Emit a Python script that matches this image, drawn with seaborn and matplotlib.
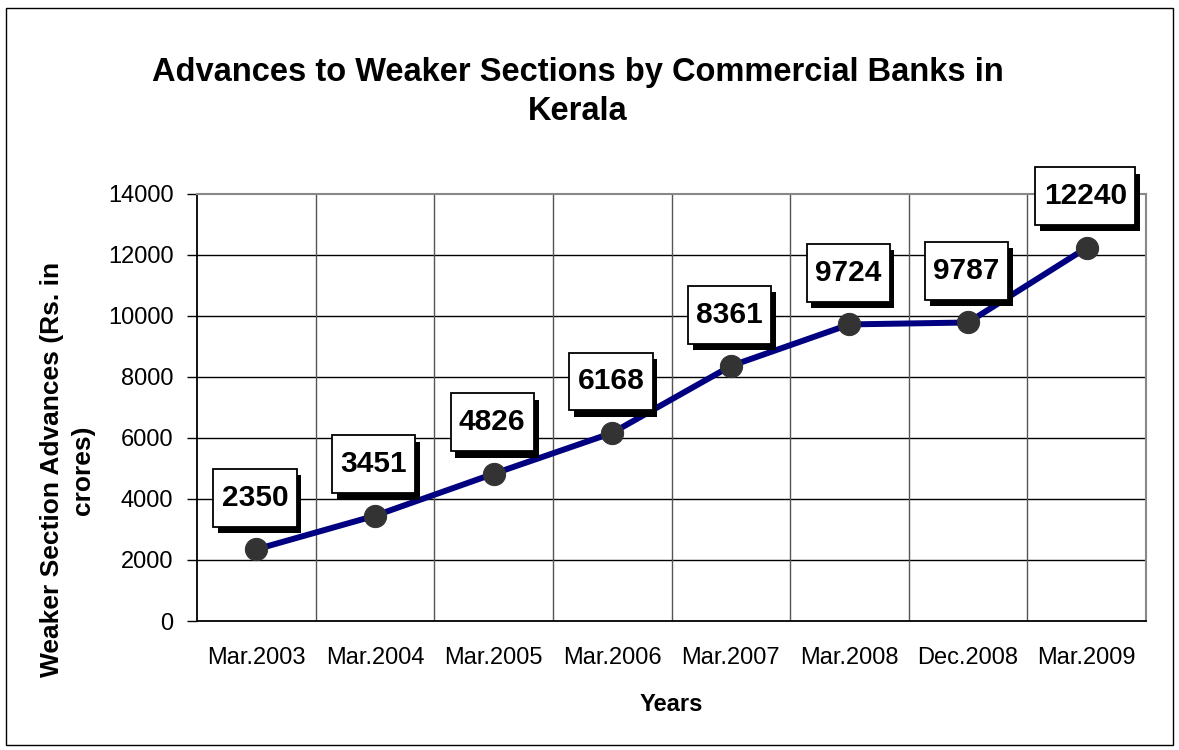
import matplotlib.pyplot as plt
import matplotlib.patheffects as pe
from matplotlib.path import Path
import seaborn as sns
import pandas as pd

# data
periods = ['Mar.2003', 'Mar.2004', 'Mar.2005', 'Mar.2006', 'Mar.2007',
           'Mar.2008', 'Dec.2008', 'Mar.2009']
advances = [2350, 3451, 4826, 6168, 8361, 9724, 9787, 12240]
y_ticks = [0, 2000, 4000, 6000, 8000, 10000, 12000, 14000]

df = pd.DataFrame({'period': periods, 'advance': advances})

sns.set_style('white')
plt.rcParams['font.family'] = ['Liberation Sans', 'DejaVu Sans']
plt.rcParams['text.color'] = 'black'
plt.rcParams['axes.labelcolor'] = 'black'
plt.rcParams['xtick.color'] = 'black'
plt.rcParams['ytick.color'] = 'black'


def label_box(x0, y0, width, height, mutation_size):
    # rectangle with less padding at the sides than above/below
    px = 0.28 * mutation_size
    py = 0.5 * mutation_size
    x0, y0 = x0 - px, y0 - py
    x1, y1 = x0 + width + 2 * px, y0 + height + 2 * py
    return Path([(x0, y0), (x1, y0), (x1, y1), (x0, y1), (x0, y0)], closed=True)


fig = plt.figure(figsize=(11.79, 7.5), dpi=100)
ax = fig.add_axes([197 / 1179, 1 - 621 / 750, (1146 - 197) / 1179, (621 - 194) / 750])

sns.lineplot(data=df, x='period', y='advance', ax=ax, sort=False,
             color='#000080', linewidth=4.3, marker='o', markersize=16,
             markerfacecolor='#333333', markeredgecolor='#333333', zorder=3)

ax.set_xlim(-0.5, len(periods) - 0.5)
ax.set_ylim(0, 14000)
ax.set_yticks(y_ticks)
ax.set_yticklabels([str(t) for t in y_ticks], fontsize=17)

# category labels sit between the boundary ticks
ax.set_xticks(range(len(periods)))
ax.set_xticklabels(periods, fontsize=17)
ax.tick_params(axis='x', length=0, pad=19)
ax.set_xticks([i + 0.5 for i in range(-1, len(periods))], minor=True)
ax.tick_params(axis='x', which='minor', length=8, width=1, color='black', direction='out')
ax.tick_params(axis='y', length=7, width=1, color='black', direction='out', left=True, pad=10)

ax.grid(False)
for y in y_ticks[1:-1]:
    ax.axhline(y, color='black', linewidth=1, zorder=1)
for xb in range(len(periods) - 1):
    ax.axvline(xb + 0.5, color='#555555', linewidth=1, zorder=1)

for side in ['top', 'right']:
    ax.spines[side].set_color('#888888')
    ax.spines[side].set_linewidth(1.5)
for side in ['left', 'bottom']:
    ax.spines[side].set_color('black')
    ax.spines[side].set_linewidth(1.3)

# boxed value labels with the drop shadow
for i, v in enumerate(advances):
    ax.annotate(str(v), xy=(i, v), xytext=(-1, 37), textcoords='offset points',
                ha='center', va='center', fontsize=21.5, fontweight='bold', zorder=5,
                bbox=dict(boxstyle=label_box, facecolor='white', edgecolor='black',
                          linewidth=1.3,
                          path_effects=[pe.SimplePatchShadow(offset=(3.5, -4.5), shadow_rgbFace='black', alpha=1),
                                        pe.Normal()]))

ax.set_xlabel('Years', fontsize=17, fontweight='bold', labelpad=17)
ax.set_ylabel('Weaker Section Advances (Rs. in\ncrores)', fontsize=19, fontweight='bold',
              linespacing=1.35)
ax.yaxis.set_label_coords(-0.108, 0.354)

fig.text(578 / 1179, 1 - 92 / 750, 'Advances to Weaker Sections by Commercial Banks in\nKerala',
         ha='center', va='center', fontsize=23.5, fontweight='bold', linespacing=1.35)

# outer chart border
fig.patches.append(plt.Rectangle((6 / 1179, 5 / 750), 1 - 12 / 1179, 1 - 13 / 750,
                                 transform=fig.transFigure, fill=False,
                                 edgecolor='black', linewidth=1))

fig.savefig('out.png', dpi=100)
